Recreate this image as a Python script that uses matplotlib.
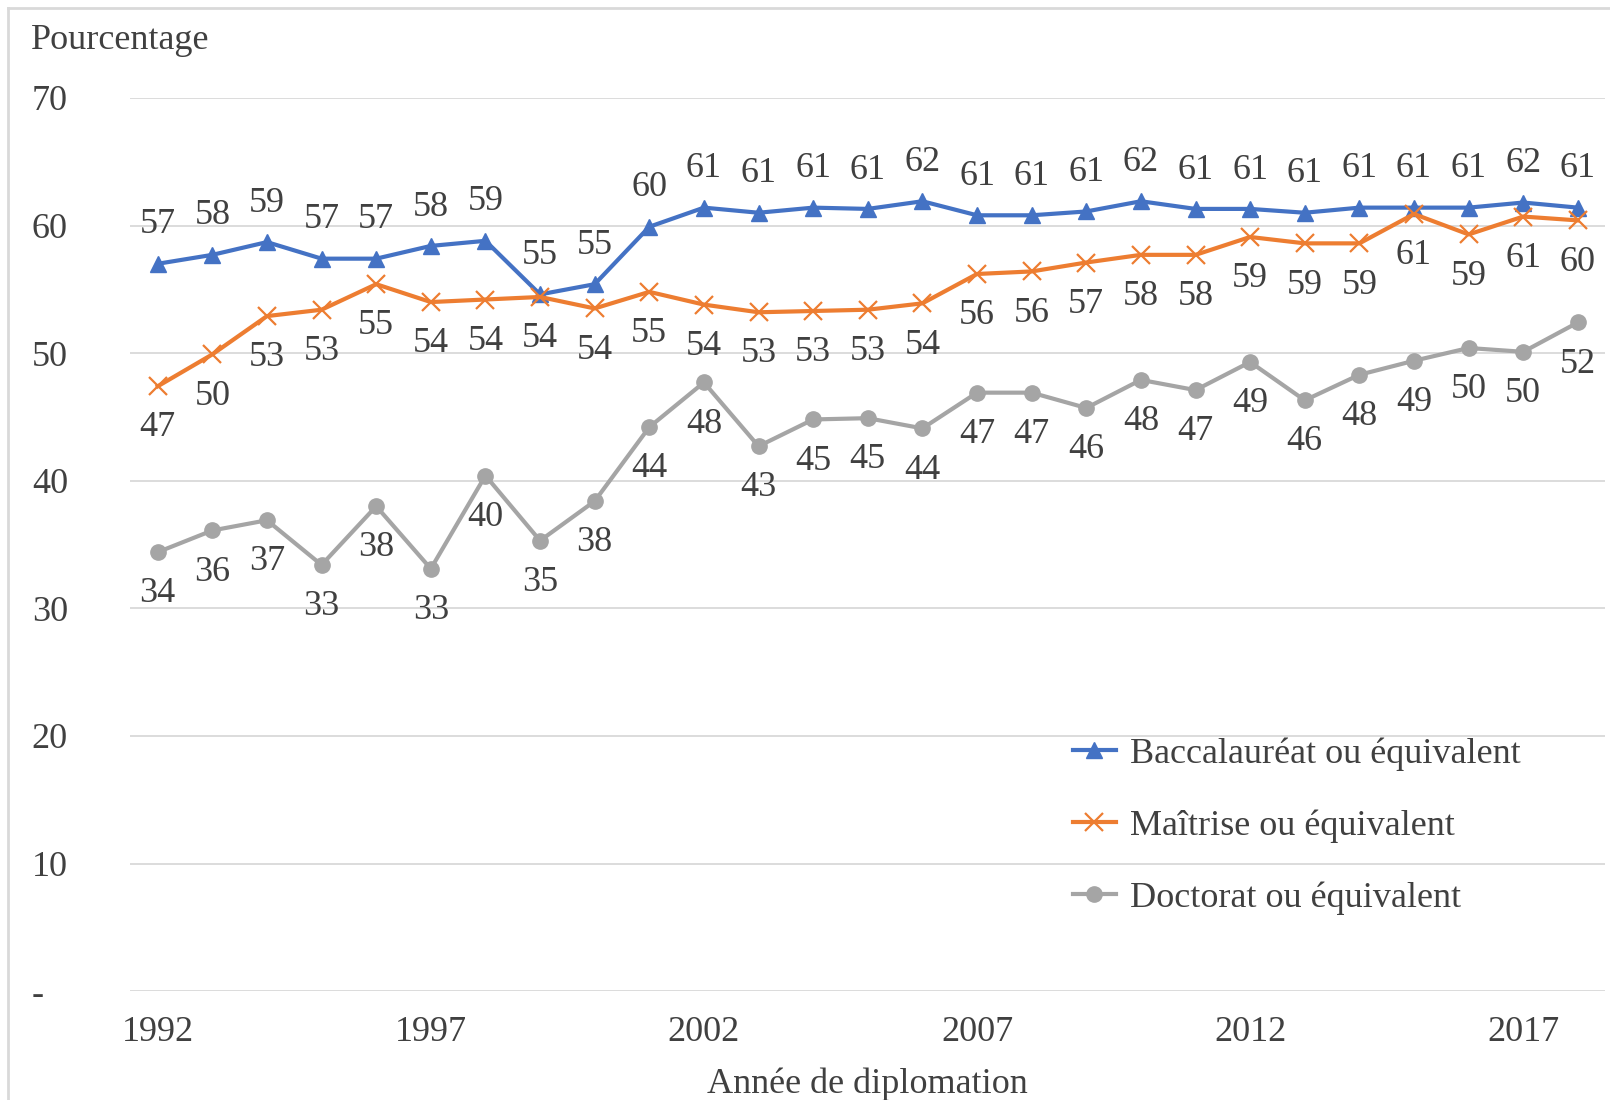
import matplotlib
matplotlib.use('Agg')
import matplotlib.pyplot as plt
from matplotlib.lines import Line2D

# Données
annees = list(range(1992, 2019))
bac = [57.0, 57.7, 58.7, 57.4, 57.4, 58.4, 58.8, 54.6, 55.4, 59.9, 61.4, 61.0, 61.4, 61.3,
       61.9, 60.8, 60.8, 61.1, 61.9, 61.3, 61.3, 61.0, 61.4, 61.4, 61.4, 61.8, 61.4]
maitrise = [47.4, 49.9, 52.9, 53.4, 55.4, 54.0, 54.2, 54.4, 53.5, 54.8, 53.8, 53.2, 53.3, 53.4,
            53.9, 56.2, 56.4, 57.1, 57.7, 57.7, 59.1, 58.6, 58.6, 60.9, 59.3, 60.7, 60.4]
doctorat = [34.4, 36.1, 36.9, 33.4, 38.0, 33.1, 40.4, 35.3, 38.4, 44.2, 47.7, 42.7, 44.8, 44.9,
            44.1, 46.9, 46.9, 45.7, 47.9, 47.1, 49.3, 46.3, 48.3, 49.4, 50.4, 50.1, 52.4]
series = ['Baccalauréat ou équivalent', 'Maîtrise ou équivalent', 'Doctorat ou équivalent']
yticks = [0, 10, 20, 30, 40, 50, 60, 70]
ytick_labels = ['-', '10', '20', '30', '40', '50', '60', '70']
xticks = [1992, 1997, 2002, 2007, 2012, 2017]

plt.rcParams['font.family'] = ['Liberation Serif', 'DejaVu Serif']
texte = '#404040'
fs = 26

fig = plt.figure(figsize=(16.1, 11), dpi=100)
ax = fig.add_axes([0.081, 0.099, 0.916, 0.812])

ax.plot(annees, bac, color='#4472C4', lw=3, marker='^', markersize=12, label=series[0], zorder=3)
ax.plot(annees, maitrise, color='#ED7D31', lw=3, marker='x', markersize=13, markeredgewidth=1.6,
        label=series[1], zorder=4)
ax.plot(annees, doctorat, color='#A5A5A5', lw=3, marker='o', markersize=11, label=series[2], zorder=3)

for x, v in zip(annees, bac):
    ax.annotate(f'{v:.0f}', (x, v), xytext=(0, 28), textcoords='offset points',
                ha='center', va='center', fontsize=fs, color=texte)
for x, v in zip(annees, maitrise):
    ax.annotate(f'{v:.0f}', (x, v), xytext=(0, -30), textcoords='offset points',
                ha='center', va='center', fontsize=fs, color=texte)
for x, v in zip(annees, doctorat):
    ax.annotate(f'{v:.0f}', (x, v), xytext=(0, -30), textcoords='offset points',
                ha='center', va='center', fontsize=fs, color=texte)

ax.set_xlim(1991.5, 2018.5)
ax.set_ylim(0, 70)
ax.set_yticks(yticks)
ax.set_yticklabels(ytick_labels, ha='left')
ax.set_xticks(xticks)
ax.tick_params(axis='y', length=0, pad=71, labelsize=fs, labelcolor=texte)
ax.tick_params(axis='x', length=0, pad=18, labelsize=fs, labelcolor=texte)
ax.grid(axis='y', color='#d9d9d9', lw=1.3)
ax.set_axisbelow(True)
for s in ax.spines.values():
    s.set_visible(False)

ax.set_xlabel('Année de diplomation', fontsize=fs, color=texte, labelpad=13)
fig.text(0.019, 0.963, 'Pourcentage', fontsize=fs, color=texte, ha='left', va='center')

ax.legend(loc='center left', bbox_to_anchor=(0.655, 0.249), bbox_transform=fig.transFigure,
          frameon=False, fontsize=fs, handlelength=1.2, handletextpad=0.4, labelspacing=1.07,
          borderpad=0, labelcolor=texte)

# cadre du graphique
fig.add_artist(Line2D([0.005, 0.005], [0, 0.993], color='#d9d9d9', lw=2, transform=fig.transFigure))
fig.add_artist(Line2D([0.005, 1], [0.993, 0.993], color='#d9d9d9', lw=2, transform=fig.transFigure))

fig.savefig('out.png', dpi=100)
